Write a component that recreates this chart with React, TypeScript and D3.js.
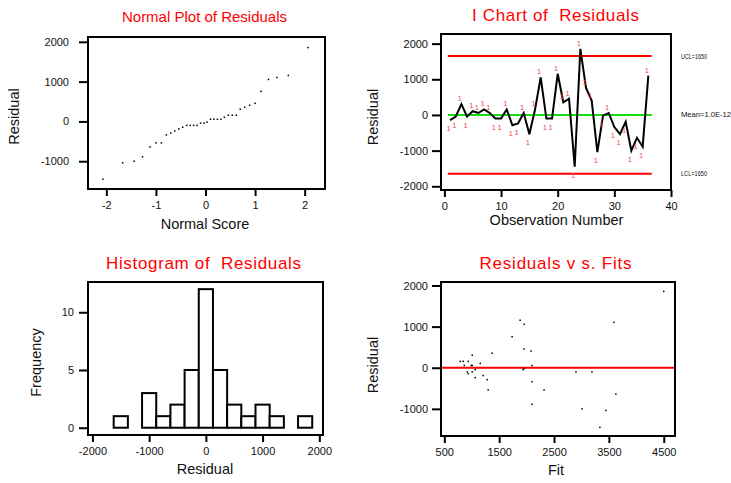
import React, { useRef, useEffect } from 'react'
import * as d3 from 'd3'

const residuals = [
  -145, -45, 305, -45, 105, 55, 155, 55, -100, -100, 155, -290, -240, 55, -540, 155, 1055, -100,
  -100, 1155, 355, 455, -1450, 1855, 755, 405, -1040, -20, 55, -340, -540, -190, -1000, -640, -890, 1105,
]
// fitted values, same order
const fits = [
  936, 1064, 1009, 1936, 1155, 864, 791, 1009, 918, 1009, 845, 1282, 1064, 2100, 1300, 936, 1955, 2900,
  3191, 1882, 1373, 1955, 3336, 4500, 1736, 2082, 3445, 1955, 991, 2100, 2318, 1209, 3009, 3627, 2100, 3591,
]
// normal scores for the sorted residuals
const normalScores = [
  -2.07, -1.67, -1.44, -1.27, -1.12, -1.0, -0.89, -0.79, -0.7, -0.62, -0.54, -0.46, -0.38, -0.31, -0.24, -0.17, -0.1, -0.03,
  0.03, 0.1, 0.17, 0.24, 0.31, 0.38, 0.46, 0.54, 0.62, 0.7, 0.79, 0.89, 1.0, 1.12, 1.27, 1.44, 1.67, 2.07,
]
const histBinStarts = [-1625, -1375, -1125, -875, -625, -375, -125, 125, 375, 625, 875, 1125, 1375, 1625]
const histCounts = [1, 0, 3, 1, 2, 5, 12, 5, 2, 1, 2, 1, 0, 1]
const histBinWidth = 250

const ucl = 1650
const lcl = -1650
const centerLine = 0
const controlLabels = ['UCL=1650', 'Mean=1.0E-12', 'LCL=1650']

const normalXTicks = [-2, -1, 0, 1, 2]
const normalYTicks = [-1000, 0, 1000, 2000]
const iXTicks = [0, 10, 20, 30, 40]
const iYTicks = [-2000, -1000, 0, 1000, 2000]
const histXTicks = [-2000, -1000, 0, 1000, 2000]
const histYTicks = [0, 5, 10]
const fitXTicks = [500, 1500, 2500, 3500, 4500]
const fitYTicks = [-1000, 0, 1000, 2000]

const FONT = 'Liberation Sans, Arial, Helvetica, sans-serif'

type Frame = { left: number; right: number; top: number; bottom: number }

function drawPanel(svg: any, f: Frame, xDom: number[], yDom: number[], xTicks: number[], yTicks: number[], yPad: number) {
  const x = d3.scaleLinear().domain(xDom).range([f.left, f.right])
  const y = d3.scaleLinear().domain(yDom).range([f.bottom, f.top])
  const marks = svg.append('g')

  svg.append('rect')
    .attr('x', f.left).attr('y', f.top)
    .attr('width', f.right - f.left).attr('height', f.bottom - f.top)
    .attr('fill', 'none').attr('stroke', '#000').attr('stroke-width', 2)

  const xa = svg.append('g').attr('transform', `translate(0,${f.bottom})`)
    .call(d3.axisBottom(x).tickValues(xTicks).tickSize(7).tickPadding(5).tickFormat((d: any) => String(d)))
  const ya = svg.append('g').attr('transform', `translate(${f.left},0)`)
    .call(d3.axisLeft(y).tickValues(yTicks).tickSize(9).tickPadding(yPad).tickFormat((d: any) => String(d)))
  for (const a of [xa, ya]) {
    a.select('.domain').remove()
    a.attr('font-family', FONT).attr('font-size', 11)
    a.selectAll('line').attr('stroke-width', 2)
    a.selectAll('text').attr('fill', '#111')
  }
  return { x, y, marks }
}

function label(svg: any, txt: string, x: number, y: number, size: number, color: string, len?: number, rotate = false) {
  const t = svg.append('text')
    .attr('font-family', FONT).attr('font-size', size).attr('fill', color)
    .attr('text-anchor', 'middle')
    .style('white-space', 'pre')
    .text(txt)
  if (rotate) t.attr('transform', `translate(${x},${y}) rotate(-90)`)
  else t.attr('x', x).attr('y', y)
  if (len) t.attr('textLength', len).attr('lengthAdjust', 'spacing')
  return t
}

function App() {
  const svgRef = useRef<SVGSVGElement>(null)

  useEffect(() => {
    const svg = d3.select(svgRef.current)
    svg.selectAll('*').remove()

    // ---- Normal plot
    const sorted = d3.sort(residuals)
    const p1 = drawPanel(svg, { left: 88, right: 325, top: 37, bottom: 189 }, [-2.37, 2.41], [-1698, 2121], normalXTicks, normalYTicks, 10)
    p1.marks.selectAll('rect').data(sorted).enter().append('rect')
      .attr('x', (_: any, i: number) => p1.x(normalScores[i]) - 0.75)
      .attr('y', (d: number) => p1.y(d) - 0.75)
      .attr('width', 1.5).attr('height', 1.5).attr('fill', '#000')
    label(svg, 'Normal Plot of Residuals', 204.5, 22, 15, '#ff0000')
    label(svg, 'Normal Score', 205, 228.5, 14.5, '#111')
    label(svg, 'Residual', 18.5, 116.5, 14.5, '#111', undefined, true)

    // ---- I chart
    const p2 = drawPanel(svg, { left: 441, right: 671, top: 34, bottom: 190 }, [-0.6, 40], [-2104, 2270], iXTicks, iYTicks, 4)
    const limits = [ucl, centerLine, lcl]
    p2.marks.selectAll('line').data(limits).enter().append('line')
      .attr('x1', p2.x(0.6)).attr('x2', p2.x(36.6))
      .attr('y1', (d: number) => p2.y(d)).attr('y2', (d: number) => p2.y(d))
      .attr('stroke', (d: number) => (d === centerLine ? '#10e010' : '#ff0000'))
      .attr('stroke-width', 2)
    const line = d3.line<number>().x((_, i) => p2.x(i + 1)).y(d => p2.y(d))
    p2.marks.append('path').datum(residuals).attr('d', line)
      .attr('fill', 'none').attr('stroke', '#000').attr('stroke-width', 2)
    p2.marks.selectAll('text').data(residuals).enter().append('text')
      .attr('x', (_: any, i: number) => p2.x(i + 1) - 1.5)
      .attr('y', (d: number) => (d >= 0 ? p2.y(d) - 3 : p2.y(d) + 11))
      .attr('text-anchor', 'middle').attr('font-family', FONT).attr('font-size', 7.5)
      .attr('fill', '#f04848').text('1')
    const lblLens = [26, 50, 26]
    limits.forEach((v, i) => {
      svg.append('text').attr('x', 681).attr('y', p2.y(v)).attr('dy', '0.35em')
        .attr('font-family', FONT).attr('font-size', 7).attr('fill', '#111')
        .attr('textLength', lblLens[i]).attr('lengthAdjust', 'spacingAndGlyphs')
        .text(controlLabels[i])
    })
    label(svg, 'I Chart of  Residuals', 555.5, 21, 17, '#ff0000', 167)
    label(svg, 'Observation Number', 556.5, 225, 14.5, '#111')
    label(svg, 'Residual', 378, 117, 14.5, '#111', undefined, true)

    // ---- Histogram
    const p3 = drawPanel(svg, { left: 88, right: 323, top: 282, bottom: 435 }, [-2078, 2065], [-0.63, 12.62], histXTicks, histYTicks, 5)
    p3.marks.selectAll('rect').data(histCounts).enter().append('rect')
      .attr('x', (_: any, i: number) => p3.x(histBinStarts[i]))
      .attr('width', p3.x(histBinWidth) - p3.x(0))
      .attr('y', (d: number) => p3.y(d))
      .attr('height', (d: number) => p3.y(0) - p3.y(d))
      .attr('fill', '#fff').attr('stroke', '#000').attr('stroke-width', 2)
    label(svg, 'Histogram of  Residuals', 203.5, 268.5, 17, '#ff0000', 195)
    label(svg, 'Residual', 205, 473.5, 14.5, '#111')
    label(svg, 'Frequency', 40.5, 362.5, 14.5, '#111', undefined, true)

    // ---- Residuals vs fits
    const p4 = drawPanel(svg, { left: 441, right: 675, top: 282, bottom: 436 }, [440, 4705], [-1660, 2085], fitXTicks, fitYTicks, 4)
    p4.marks.append('line')
      .attr('x1', 441).attr('x2', 675).attr('y1', p4.y(0)).attr('y2', p4.y(0))
      .attr('stroke', '#ff0000').attr('stroke-width', 2)
    p4.marks.selectAll('rect').data(residuals).enter().append('rect')
      .attr('x', (_: any, i: number) => p4.x(fits[i]) - 0.75)
      .attr('y', (d: number) => p4.y(d) - 0.75)
      .attr('width', 1.5).attr('height', 1.5).attr('fill', '#000')
    label(svg, 'Residuals v s. Fits', 555.5, 268.5, 17, '#ff0000', 152)
    label(svg, 'Fit', 556, 475, 14.5, '#111')
    label(svg, 'Residual', 378, 365, 14.5, '#111', undefined, true)
  }, [])

  return (
    <svg ref={svgRef} width="731" height="483" style={{ position: 'absolute', left: 0, top: 0, background: '#fff' }}></svg>
  )
}

export default App
